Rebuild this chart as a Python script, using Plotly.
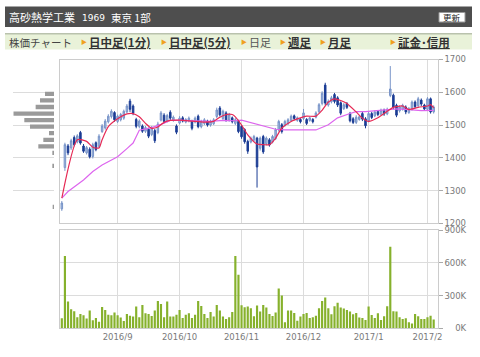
import pandas as pd
import plotly.graph_objects as go

# ---------------- data ----------------
holidays = ["2016-08-11", "2016-09-19", "2016-09-22", "2016-10-10", "2016-11-03",
            "2016-11-23", "2016-12-23", "2017-01-02", "2017-01-03", "2017-01-09"]
dates = [d.strftime("%Y-%m-%d") for d in pd.bdate_range("2016-08-05", "2017-02-03")
         if d.strftime("%Y-%m-%d") not in holidays]

opens = [1244,1370,1436,1430,1462,1448,1477,1436,1415,1426,
         1404,1446,1435,1480,1491,1510,1526,1538,1511,1516,
         1521,1540,1573,1558,1517,1496,1497,1481,1487,1471,
         1483,1477,1515,1530,1513,1539,1514,1497,1506,1522,
         1509,1512,1512,1509,1527,1495,1505,1512,1500,1504,
         1526,1552,1520,1537,1515,1522,1505,1511,1496,1486,
         1450,1448,1454,1460,1429,1465,1443,1455,1448,1459,
         1485,1501,1499,1504,1514,1528,1514,1517,1520,1517,
         1514,1517,1524,1541,1566,1622,1561,1571,1593,1583,
         1568,1550,1565,1535,1519,1508,1517,1535,1519,1513,
         1535,1528,1541,1533,1545,1534,1590,1591,1560,1543,
         1548,1555,1538,1549,1570,1559,1576,1561,1548,1580,1540]
highs = [1268,1446,1442,1458,1468,1472,1482,1442,1436,1432,
         1446,1450,1472,1503,1518,1533,1548,1542,1532,1537,
         1547,1564,1580,1563,1522,1517,1502,1497,1492,1497,
         1488,1510,1543,1536,1534,1545,1529,1502,1527,1527,
         1521,1526,1516,1526,1532,1516,1521,1516,1516,1521,
         1553,1558,1547,1542,1537,1526,1521,1516,1500,1490,
         1455,1465,1470,1464,1465,1470,1465,1460,1470,1491,
         1516,1506,1516,1521,1532,1532,1526,1521,1549,1521,
         1526,1521,1542,1567,1603,1629,1578,1589,1598,1588,
         1572,1567,1570,1540,1524,1530,1530,1540,1524,1540,
         1540,1545,1545,1550,1550,1553,1680,1596,1565,1560,
         1565,1560,1555,1575,1575,1586,1581,1565,1585,1584,1560]
lows = [1238,1360,1408,1424,1435,1444,1440,1415,1410,1398,
        1398,1420,1430,1476,1486,1505,1520,1510,1506,1511,
        1516,1536,1540,1530,1490,1490,1476,1476,1460,1466,
        1445,1472,1511,1505,1508,1515,1510,1472,1502,1508,
        1505,1508,1484,1505,1490,1490,1500,1495,1495,1500,
        1521,1526,1515,1510,1510,1505,1500,1475,1458,1443,
        1412,1444,1449,1309,1422,1412,1438,1434,1444,1454,
        1480,1474,1495,1500,1510,1515,1510,1505,1515,1500,
        1510,1505,1520,1536,1560,1560,1556,1566,1566,1555,
        1530,1546,1549,1508,1503,1503,1513,1512,1490,1508,
        1518,1524,1527,1529,1528,1530,1585,1548,1524,1538,
        1544,1533,1534,1544,1551,1554,1558,1544,1544,1535,1535]
closes = [1262,1440,1415,1452,1440,1467,1445,1420,1431,1403,
          1440,1425,1466,1497,1512,1527,1542,1516,1527,1532,
          1542,1558,1548,1536,1496,1512,1481,1492,1466,1491,
          1452,1503,1537,1511,1529,1521,1524,1478,1521,1512,
          1517,1521,1490,1521,1495,1511,1516,1500,1511,1516,
          1546,1531,1542,1515,1532,1510,1516,1480,1464,1449,
          1420,1460,1465,1372,1460,1418,1460,1439,1465,1486,
          1511,1480,1511,1516,1527,1520,1522,1510,1537,1505,
          1522,1510,1537,1562,1597,1567,1572,1583,1572,1561,
          1536,1562,1554,1513,1508,1524,1525,1518,1498,1535,
          1523,1540,1532,1545,1534,1548,1610,1555,1530,1555,
          1560,1540,1550,1570,1556,1580,1564,1549,1580,1540,1555]
volumes_k = [92,661,245,174,156,101,132,119,89,162,
             73,95,61,196,168,125,119,144,119,98,
             67,132,116,107,199,101,214,138,132,113,
             162,251,223,101,245,107,107,125,168,95,
             125,138,95,125,251,205,132,95,150,107,
             214,162,107,86,101,150,661,490,211,193,
             199,184,110,208,153,214,190,132,113,144,
             364,300,55,162,162,141,70,107,132,141,
             95,101,116,184,251,282,184,129,202,233,
             190,181,168,153,129,141,98,95,77,199,
             122,95,138,77,110,202,747,156,153,101,
             86,92,55,43,132,110,86,86,101,116,80]

ma_short_idx = [0,5,8,10,12,13,15,18,21,23,25,27,29,31,33,35,38,42,46,49,51,53,55,56,58,60,
                63,65,67,69,71,74,77,79,82,84,86,88,90,92,95,97,99,102,105,107,110,112,115,118,119,120]
ma_short = [1277,1455,1450,1432,1430,1455,1495,1519,1534,1535,1525,1505,1490,1494,1508,1514,1515,
            1512,1509,1511,1524,1532,1532,1525,1500,1470,
            1442,1440,1440,1460,1491,1511,1522,1527,1527,1545,1570,1580,1575,1566,1540,1521,1511,
            1522,1542,1554,1558,1547,1554,1558,1562,1552]
ma_long_idx = [0,2,7,10,13,18,21,23,25,27,29,32,35,39,44,48,52,56,58,62,66,69,72,82,86,89,93,95,98,
               105,108,111,116,120]
ma_long = [1277,1297,1332,1358,1378,1403,1428,1445,1484,1489,1492,1502,1514,1514,1512,1511,1514,
           1513,1515,1505,1495,1487,1485,1485,1501,1522,1535,1541,1541,1545,1549,1548,1544,1545]

profile_price = [1595,1575,1555,1535,1515,1495,1475,1455,1435,1415,1375,1250]
profile_vol = [540,840,1100,2440,1780,1440,300,640,940,100,100,80]

month_ticks = ["2016-09-01","2016-10-03","2016-11-01","2016-12-01","2017-01-04","2017-02-01"]
month_labels = ["2016/9","2016/10","2016/11","2016/12","2017/1","2017/2"]
price_ticks = [1200,1300,1400,1500,1600,1700]
vol_ticks = [0,300,600,900]
vol_labels = ["\u2007\u20070K","300K","600K","900K"]

# ---------------- layout helpers ----------------
W, H = 480, 357
def fx(px): return px / W
def fy(py): return 1 - py / H

GRID = "#dcdcdc"
FRAME = "#cccccc"
TICKFONT = dict(family="DejaVu Sans", size=8.5, color="#7a7a7a")
JP = "Noto Sans CJK JP"

fig = go.Figure()

fig.add_trace(go.Candlestick(
    x=dates, open=opens, high=highs, low=lows, close=closes,
    xaxis="x", yaxis="y",
    increasing=dict(line=dict(color="#7894c8", width=1), fillcolor="#a6bbe0"),
    decreasing=dict(line=dict(color="#1b3c94", width=1), fillcolor="#1b3c94"),
    whiskerwidth=0, hoverinfo="skip"))

fig.add_trace(go.Scatter(x=[dates[i] for i in ma_long_idx], y=ma_long, mode="lines",
                         line=dict(color="#dd66ee", width=1.2), xaxis="x", yaxis="y", hoverinfo="skip"))
fig.add_trace(go.Scatter(x=[dates[i] for i in ma_short_idx], y=ma_short, mode="lines",
                         line=dict(color="#e62a55", width=1.2, shape="spline", smoothing=0.6),
                         xaxis="x", yaxis="y", hoverinfo="skip"))

fig.add_trace(go.Bar(x=dates, y=volumes_k, xaxis="x2", yaxis="y2",
                     marker=dict(color="#86b12c", line=dict(width=0)), hoverinfo="skip"))

fig.add_trace(go.Bar(x=profile_vol, y=profile_price, orientation="h", width=13,
                     xaxis="x3", yaxis="y", marker=dict(color="#9a9a9a", line=dict(width=0)),
                     hoverinfo="skip"))

xdom = [fx(59.5), fx(437.7)]
xrange_ = [-0.75, 121.3]
common_x = dict(domain=xdom, type="category", categoryorder="array", categoryarray=dates,
                range=xrange_, tickvals=month_ticks, ticktext=month_labels,
                showgrid=True, gridcolor=GRID, gridwidth=1, showline=True, mirror=True,
                linecolor=FRAME, linewidth=1, zeroline=False, ticks="", tickfont=TICKFONT,
                fixedrange=True)

fig.update_layout(
    width=W, height=H, margin=dict(l=0, r=0, t=0, b=0),
    paper_bgcolor="white", plot_bgcolor="white", showlegend=False,
    bargap=0.3, template="none",
    xaxis=dict(common_x, anchor="y", showticklabels=False, rangeslider=dict(visible=False)),
    yaxis=dict(domain=[fy(223.3), fy(59.5)], anchor="x", side="right", range=[1200, 1700],
               tickvals=price_ticks, showgrid=True, gridcolor=GRID, gridwidth=1,
               showline=True, mirror=True, linecolor=FRAME, zeroline=False,
               ticks="outside", ticklen=4, tickcolor="#aaaaaa", tickfont=TICKFONT),
    xaxis2=dict(common_x, anchor="y2", matches="x", showticklabels=True),
    yaxis2=dict(domain=[fy(328.3), fy(230)], anchor="x2", side="right", range=[0, 900],
                tickvals=vol_ticks, ticktext=vol_labels, showgrid=True, gridcolor=GRID,
                showline=True, mirror=True, linecolor=FRAME, zeroline=False,
                ticks="outside", ticklen=4, tickcolor="#aaaaaa", tickfont=TICKFONT),
    xaxis3=dict(domain=[fx(13.3), fx(54)], anchor="y", range=[2440, 0], visible=False,
                showgrid=False),
)

shapes = [
    # header bar
    dict(type="rect", xref="paper", yref="paper", x0=fx(5), x1=fx(472), y0=fy(27), y1=fy(6.5),
         fillcolor="#4e4e4e", line=dict(width=0), layer="below"),
    # update button
    dict(type="rect", xref="paper", yref="paper", x0=fx(439), x1=fx(465), y0=fy(22), y1=fy(12.5),
         fillcolor="white", line=dict(color="#999999", width=1)),
    # nav bar
    dict(type="rect", xref="paper", yref="paper", x0=fx(5), x1=fx(472), y0=fy(49.5), y1=fy(34),
         fillcolor="#e9f2d9", line=dict(width=0), layer="below"),
    dict(type="line", xref="paper", yref="paper", x0=fx(5), x1=fx(472), y0=fy(33.8), y1=fy(33.8),
         line=dict(color="#b9c2ad", width=1.5)),
]
fig.update_layout(shapes=shapes)

ann = []
def add_text(text, x, y, size, color, family=JP, anchor="left"):
    ann.append(dict(text=text, x=fx(x), y=fy(y), xref="paper", yref="paper",
                    xanchor=anchor, yanchor="middle", showarrow=False,
                    font=dict(family=family, size=size, color=color)))

add_text("高砂熱学工業", 7, 17, 11, "white")
add_text("1969", 80, 17.5, 9, "white", family="DejaVu Sans")
add_text("東京 1部", 109, 17, 10.5, "white")
add_text("更新", 452, 17.3, 8.5, "#222222", anchor="center")

add_text("株価チャート", 7, 42, 10.5, "#444444")
nav = [(81, "<b><u>日中足(1分)</u></b>", 88), (161, "<b><u>日中足(5分)</u></b>", 168),
       (241, "日足", 248), (280, "<b><u>週足</u></b>", 287), (320, "<b><u>月足</u></b>", 327),
       (390, "<b><u>証金･信用</u></b>", 397)]
for tx, label, lx in nav:
    add_text("▶", tx - 2, 41.5, 6, "#f0a020")
    add_text(label, lx - 1, 42, 11.5 if "<b>" in label else 11, "#333333" if "<b>" in label else "#555555")

fig.update_layout(annotations=ann)

fig.write_html("out.html", config={"displayModeBar": False, "staticPlot": True},
               post_script="document.body.style.margin='0';document.body.style.overflow='hidden';")
